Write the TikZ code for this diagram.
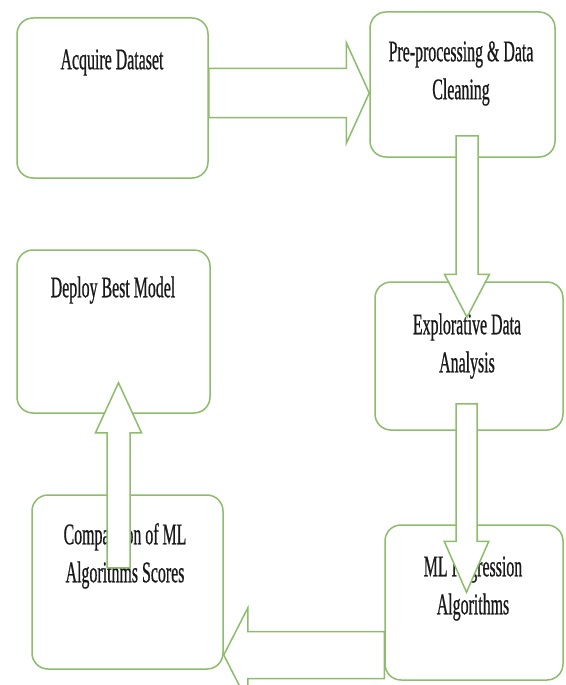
\documentclass[tikz,border=0pt]{standalone}
\usepackage{fontspec}
\newfontfamily\boxfont[FakeStretch=0.53,FakeBold=0.6]{Liberation Serif}
\usetikzlibrary{calc}
\definecolor{boxgreen}{RGB}{141,188,108}
\definecolor{textgray}{RGB}{25,25,25}

% block arrow: from, to, shaft half width, head half width, head length
\newcommand\flowarrow[5]{%
  \draw[flow] let \p1=($(#2)-(#1)$), \n1={veclen(\x1,\y1)}, \n2={atan2(\y1,\x1)} in
    [shift={(#1)}, rotate=\n2]
    (0pt,-#3) -- (\n1-#5,-#3) -- (\n1-#5,-#4) -- (\n1,0pt) -- (\n1-#5,#4) -- (\n1-#5,#3) -- (0pt,#3) -- cycle;}

\begin{document}
\begin{tikzpicture}[x=1pt, y=-1pt,
    stage/.style={draw=boxgreen, line width=1.5pt, rounded corners=16pt, inner sep=0pt, fill=white},
    stagetext/.style={font=\boxfont\fontsize{30}{38}\selectfont, text=textgray, align=center, inner sep=0pt, anchor=base},
    flow/.style={draw=boxgreen, line width=1.5pt, fill=white}]
        \useasboundingbox (0,0) rectangle (565,685);
        % Boxes
        \node[stage, minimum width=191pt, minimum height=160pt] (acq) at (112.5,98) {};
        \node[stage, minimum width=185pt, minimum height=145pt] (pre) at (462.5,84.5) {};
        \node[stage, minimum width=188pt, minimum height=148pt] (eda) at (469,356) {};
        \node[stage, minimum width=178pt, minimum height=155pt] (mlreg) at (474,602.5) {};
        \node[stage, minimum width=191pt, minimum height=174pt] (comp) at (127.5,582) {};
        \node[stage, minimum width=193pt, minimum height=163pt] (deploy) at (113.5,331.5) {};
        % Labels (base is the last line)
        \node[stagetext] (acqtext) at ($(acq.north)+(-0.5,52)$) {Acquire Dataset};
        \node[stagetext] (pretext) at ($(pre.north)+(-1.5,88)$) {Pre-processing \& Data\\Cleaning};
        \node[stagetext] (edatext) at ($(eda.north)+(-2,91)$) {Explorative Data\\Analysis};
        \node[stagetext] (mlregtext) at ($(mlreg.north)+(-1,90)$) {ML Regression\\Algorithms};
        \node[stagetext] (comptext) at ($(comp.north)+(-2.5,88)$) {Comparison of ML\\Algorithms Scores};
        \node[stagetext] (deploytext) at ($(deploy.north)+(-0.5,48)$) {Deploy Best Model};
        % Arrow ends
        \coordinate (r1) at (acq.east |- 0,93);
        \coordinate (r2) at (pre.west |- 0,93);
        \coordinate (d1) at ($(pre.south)+(4.5,-22)$);
        \coordinate (d2) at ($(eda.north)+(-2,36)$);
        \coordinate (d3) at ($(eda.south)+(-2.5,-27)$);
        \coordinate (d4) at ($(mlreg.north)+(-7.5,68)$);
        \coordinate (l1) at (mlreg.west |- 0,655);
        \coordinate (l2) at (comp.east |- 0,655);
        \coordinate (u1) at ($(comp.south)+(-9,-102)$);
        \coordinate (u2) at ($(deploy.south)+(5,-31)$);
        % Arrows
        \flowarrow{r1}{r2}{24.5pt}{50.5pt}{23pt}
        \flowarrow{d1}{d2}{11pt}{22.5pt}{43pt}
        \flowarrow{d3}{d4}{10.5pt}{22.3pt}{51pt}
        \flowarrow{l1}{l2}{23.5pt}{47pt}{24pt}
        \flowarrow{u1}{u2}{11.5pt}{23pt}{50pt}
\end{tikzpicture}
\end{document}
